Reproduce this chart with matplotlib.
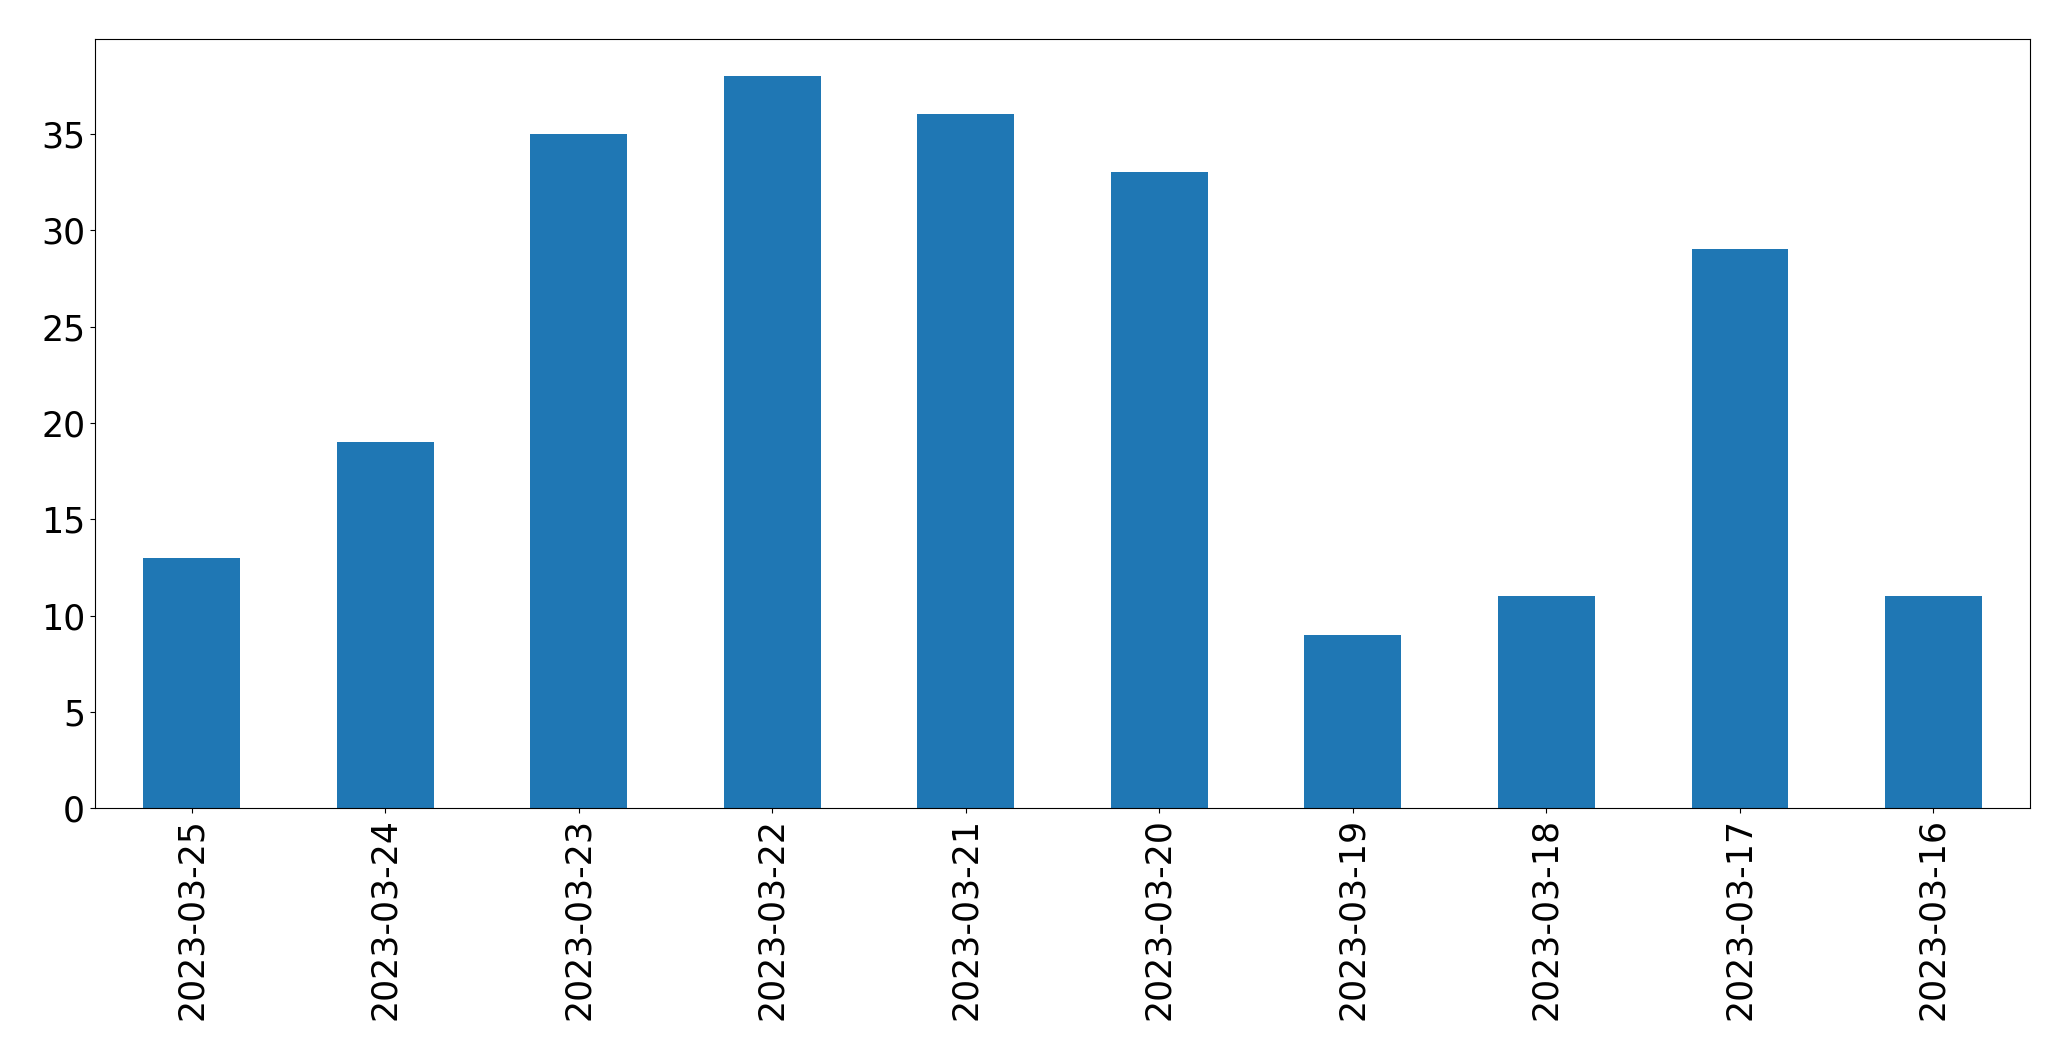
import matplotlib
matplotlib.use("Agg")
import matplotlib.pyplot as plt

dates = ["2023-03-25", "2023-03-24", "2023-03-23", "2023-03-22", "2023-03-21",
         "2023-03-20", "2023-03-19", "2023-03-18", "2023-03-17", "2023-03-16"]
counts = [13, 19, 35, 38, 36, 33, 9, 11, 29, 11]

fig = plt.figure(figsize=(20.71, 10.61), dpi=100)
ax = fig.add_axes([0.0458, 0.238, 0.9345, 0.725])
x = list(range(len(dates)))
ax.bar(x, counts, width=0.5, color="#1f77b4")
ax.set_xlim(-0.5, len(dates) - 0.5)
ax.set_xticks(x)
ax.set_xticklabels(dates, rotation=90)
ax.tick_params(axis="both", labelsize=25)
fig.savefig("out.png", dpi=100)
